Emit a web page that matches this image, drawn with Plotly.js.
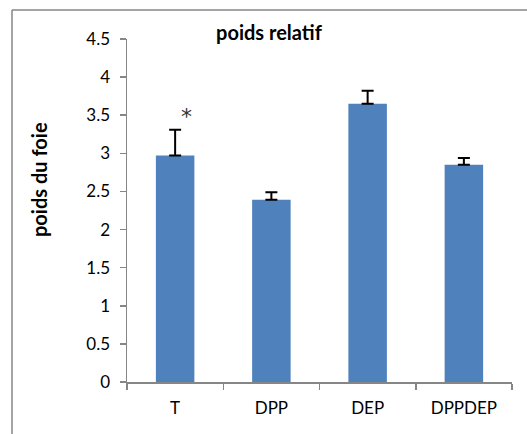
<!DOCTYPE html>
<html>
<head>
<meta charset="utf-8">
<script src="https://cdn.plot.ly/plotly-3.0.1.min.js"></script>
<style>html,body{margin:0;padding:0;background:#fff;}#chart{width:527px;height:434px;}</style>
</head>
<body>
<div id="chart"></div>
<script>
const categories = ["T", "DPP", "DEP", "DPPDEP"];
const values = [2.97, 2.39, 3.65, 2.85];
const errors = [0.34, 0.10, 0.17, 0.09];
const yTicks = [0, 0.5, 1, 1.5, 2, 2.5, 3, 3.5, 4, 4.5];
const yTickLabels = ["0", "0.5", "1", "1.5", "2", "2.5", "3", "3.5", "4", "4.5"];
const starCategory = "T";
const starValue = 3.48;

const W = 527, H = 434;
const m = {l: 127, r: 15, t: 39, b: 52};
const pw = W - m.l - m.r, ph = H - m.t - m.b;
const px = x => (x - m.l) / pw;
const py = y => (H - m.b - y) / ph;
const font = "Lato, Open Sans, sans-serif";

Plotly.newPlot("chart", [{
  type: "bar",
  x: categories,
  y: values,
  marker: {color: "#4F81BD"},
  error_y: {type: "data", array: errors, symmetric: false, arrayminus: errors.map(() => 0), color: "#000", thickness: 2, width: 6},
  hoverinfo: "none"
}], {
  width: W, height: H,
  margin: m,
  paper_bgcolor: "#fff", plot_bgcolor: "#fff",
  bargap: 0.6,
  showlegend: false,
  font: {family: font, size: 17, color: "#000"},
  title: {text: "<b>poids relatif</b>", xref: "container", x: 269 / W, xanchor: "center", yref: "container", y: 1 - 33 / H, yanchor: "middle", font: {family: font, size: 20, color: "#000"}},
  xaxis: {
    type: "category",
    showline: true, linecolor: "#868686", linewidth: 1.5,
    ticks: "outside", tickson: "boundaries", ticklen: 6, tickcolor: "#868686", tickwidth: 1.5,
    showgrid: false, zeroline: false,
    tickfont: {family: font, size: 17, color: "#000"},
    ticklabelstandoff: 10
  },
  yaxis: {
    range: [0, 4.5],
    tickvals: yTicks, ticktext: yTickLabels,
    showline: true, linecolor: "#868686", linewidth: 1.5,
    ticks: "outside", ticklen: 6, tickcolor: "#868686", tickwidth: 1.5,
    showgrid: false, zeroline: false,
    tickfont: {family: font, size: 17, color: "#000"},
    ticklabelstandoff: 6
  },
  annotations: [
    {text: "<b>poids du foie</b>", textangle: -90, xref: "paper", yref: "paper", x: px(39), y: py(180), xanchor: "center", yanchor: "middle", showarrow: false, font: {family: font, size: 20, color: "#000"}},
    {text: "*", xref: "x", yref: "y", x: starCategory, y: starValue, xshift: 11, showarrow: false, yanchor: "middle", font: {family: "DejaVu Sans, sans-serif", size: 22, color: "#333"}}
  ],
  shapes: [
    {type: "line", xref: "paper", yref: "paper", x0: px(12), x1: px(540), y0: py(10), y1: py(10), line: {color: "#868686", width: 1.5}},
    {type: "line", xref: "paper", yref: "paper", x0: px(12), x1: px(12), y0: py(10), y1: py(450), line: {color: "#868686", width: 1.5}}
  ]
}, {displayModeBar: false, staticPlot: true});
</script>
</body>
</html>
